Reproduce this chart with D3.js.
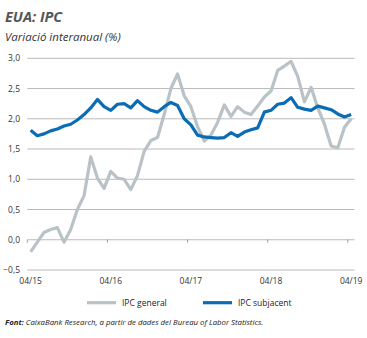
<!DOCTYPE html>
<html lang="ca">
<head>
<meta charset="utf-8">
<title>EUA: IPC</title>
<style>
  body { margin: 0; background: #fff; }
  svg { display: block; font-family: "Open Sans", "DejaVu Sans", sans-serif; }
</style>
</head>
<body>
<svg id="chart" width="367" height="338"></svg>
<script src="https://d3js.org/d3.v7.min.js"></script>
<script>
// months 04/15 .. 04/19
const months = d3.range(49).map(i => {
  const m = (3 + i) % 12 + 1, y = 15 + Math.floor((3 + i) / 12);
  return String(m).padStart(2, "0") + "/" + y;
});
const ipcGeneral = [
  -0.2, -0.04, 0.12, 0.17, 0.2, -0.04, 0.17, 0.5, 0.73, 1.37, 1.02, 0.85,
  1.13, 1.02, 1.0, 0.83, 1.06, 1.46, 1.64, 1.69, 2.07, 2.5, 2.74, 2.38,
  2.2, 1.87, 1.63, 1.73, 1.94, 2.23, 2.04, 2.2, 2.11, 2.07, 2.21, 2.36,
  2.46, 2.8, 2.87, 2.95, 2.7, 2.28, 2.52, 2.18, 1.91, 1.55, 1.52, 1.86,
  2.0
];
const ipcSubjacent = [
  1.81, 1.72, 1.75, 1.8, 1.83, 1.88, 1.91, 1.98, 2.07, 2.18, 2.32, 2.2,
  2.14, 2.24, 2.25, 2.18, 2.3, 2.2, 2.14, 2.11, 2.2, 2.27, 2.22, 2.0,
  1.9, 1.73, 1.7, 1.69, 1.68, 1.69, 1.77, 1.71, 1.78, 1.82, 1.85, 2.11,
  2.14, 2.24, 2.26, 2.35, 2.19, 2.16, 2.14, 2.21, 2.18, 2.15, 2.08, 2.03,
  2.07
];
const yTicks = [-0.5, 0, 0.5, 1, 1.5, 2, 2.5, 3];
const xTickLabels = ["04/15", "04/16", "04/17", "04/18", "04/19"];

const svg = d3.select("#chart");
const margin = {left: 27.3, right: 12.5, top: 58.3, bottom: 68};
const W = 367, H = 338;

const x = d3.scaleBand().domain(months).range([margin.left, W - margin.right]);
const y = d3.scaleLinear().domain([-0.5, 3]).range([270, margin.top]);
const cx = d => x(d) + x.bandwidth() / 2;

// title
svg.append("text").attr("x", 5).attr("y", 22)
  .style("font-size", "14.5px").style("font-weight", "bold").style("font-style", "italic")
  .attr("fill", "#555").text("EUA: IPC");
svg.append("text").attr("x", 5).attr("y", 41)
  .style("font-size", "11.5px").style("font-style", "italic")
  .attr("fill", "#333").text("Variació interanual (%)");

// grid
svg.append("g").selectAll("line").data(yTicks).join("line")
  .attr("x1", margin.left).attr("x2", W - margin.right)
  .attr("y1", d => y(d)).attr("y2", d => y(d))
  .attr("stroke", "#a8a8a8").attr("stroke-width", 0.8);

svg.append("g").selectAll("text").data(yTicks).join("text")
  .attr("x", 20).attr("y", d => y(d) + 3)
  .attr("text-anchor", "end")
  .style("font-size", "8.5px").attr("fill", "#333")
  .text(d => d3.format(".1f")(d).replace(".", ","));

// x ticks on zero line at left band edges
const tickMonths = months.filter((d, i) => i % 12 === 0);
svg.append("g").selectAll("line").data(tickMonths).join("line")
  .attr("x1", d => x(d)).attr("x2", d => x(d))
  .attr("y1", y(0)).attr("y2", y(0) + 3)
  .attr("stroke", "#888").attr("stroke-width", 0.8);

svg.append("g").selectAll("text").data(tickMonths).join("text")
  .attr("x", d => cx(d)).attr("y", 284)
  .attr("text-anchor", "middle")
  .style("font-size", "8.5px").attr("fill", "#333")
  .text((d, i) => xTickLabels[i]);

// lines
const line = vals => d3.line().x((d, i) => cx(months[i])).y(d => y(d))(vals);
svg.append("path").attr("d", line(ipcGeneral))
  .attr("fill", "none").attr("stroke", "#b9c3c7").attr("stroke-width", 3.2)
  .attr("stroke-linejoin", "round");
svg.append("path").attr("d", line(ipcSubjacent))
  .attr("fill", "none").attr("stroke", "#0a6cb4").attr("stroke-width", 3.2)
  .attr("stroke-linejoin", "round");

// legend
const legend = [
  {name: "IPC general", color: "#b9c3c7", x: 87},
  {name: "IPC subjacent", color: "#0a6cb4", x: 203}
];
const lg = svg.append("g").selectAll("g").data(legend).join("g");
lg.append("line").attr("x1", d => d.x).attr("x2", d => d.x + 29)
  .attr("y1", 302.7).attr("y2", 302.7)
  .attr("stroke", d => d.color).attr("stroke-width", 3.2);
lg.append("text").attr("x", d => d.x + 35).attr("y", 305.5)
  .style("font-size", "8.5px").attr("fill", "#222").text(d => d.name);

// source
const src = svg.append("text").attr("x", 5).attr("y", 325)
  .style("font-size", "7.8px").style("font-style", "italic").attr("fill", "#222");
src.append("tspan").style("font-weight", "bold").text("Font: ");
src.append("tspan").text("CaixaBank Research, a partir de dades del Bureau of Labor Statistics.");
</script>
</body>
</html>
